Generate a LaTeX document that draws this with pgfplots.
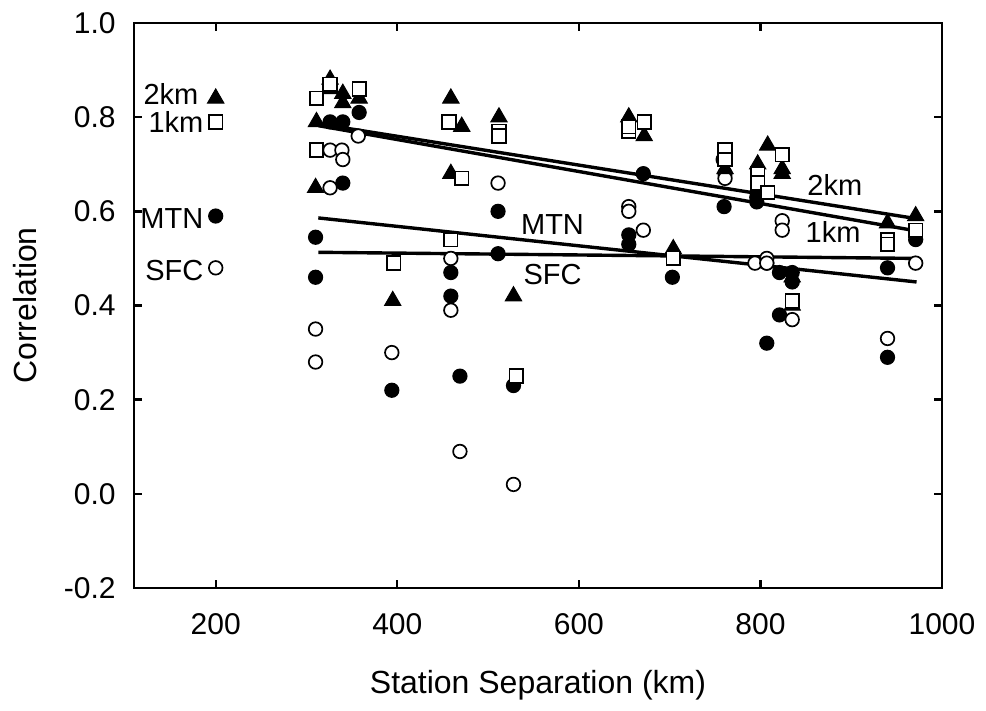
\documentclass[border=0pt]{standalone}
\usepackage{pgfplots}
\pgfplotsset{compat=1.18}
\usepackage{fontspec}
\setmainfont{Liberation Sans}
\begin{document}
\fontsize{15}{18}\selectfont
\begin{tikzpicture}
\begin{axis}[
  scale only axis, width=404pt, height=282.5pt,
  xmin=110, xmax=1000, ymin=-0.2, ymax=1.0,
  xtick={200,400,600,800,1000},
  ytick={-0.2,0.0,0.2,0.4,0.6,0.8,1.0},
  tick align=inside, major tick length=4pt,
  axis line style={line width=1.2pt},
  every tick/.style={line width=1.2pt, black},
  /pgf/number format/assume math mode=true,
  yticklabel style={/pgf/number format/fixed, /pgf/number format/fixed zerofill, /pgf/number format/precision=1, xshift=-4pt, font=\fontsize{15}{18}\selectfont},
  xticklabel style={/pgf/number format/1000 sep={}, yshift=-7.5pt, font=\fontsize{15}{18}\selectfont},
  xlabel={Station Separation (km)}, ylabel={Correlation},
  xlabel style={at={(axis description cs:0.5,-0.172)}, anchor=center, font=\fontsize{16}{19}\selectfont},
  ylabel style={at={(axis description cs:-0.135,0.5)}, anchor=center, font=\fontsize{16}{19}\selectfont},
  clip=false,
]
% regression lines
\addplot[black, line width=1.7pt] coordinates {(313,0.786) (970,0.585)};
\addplot[black, line width=1.7pt] coordinates {(313,0.782) (970,0.559)};
\addplot[black, line width=1.7pt] coordinates {(313,0.586) (972,0.450)};
\addplot[black, line width=1.7pt] coordinates {(313,0.513) (972,0.500)};
% MTN
\addplot[only marks, mark=*, mark size=3.5pt, mark options={draw=black, fill=black, line width=0.6pt}] coordinates {
(200,0.59)
(310,0.545) (310,0.46) (326,0.79) (340,0.79) (340,0.66) (358,0.81) (394,0.22)
(459,0.47) (459,0.42) (469,0.25) (511,0.60) (511,0.51) (528,0.23)
(655,0.55) (655,0.53) (671,0.68) (703,0.46) (761,0.68) (760,0.61)
(796,0.63) (796,0.62) (807,0.49) (807,0.32) (821,0.47) (821,0.38)
(835,0.47) (835,0.45) (940,0.48) (940,0.29) (971,0.54)
};
% SFC
\addplot[only marks, mark=*, mark size=3.4pt, mark options={draw=black, fill=white, line width=0.85pt}] coordinates {
(200,0.48)
(310,0.35) (310,0.28) (326,0.73) (326,0.65) (339,0.73) (340,0.71) (357,0.76)
(394,0.30) (459,0.50) (459,0.39) (469,0.09) (511,0.66) (528,0.02)
(655,0.61) (655,0.60) (671,0.56) (759,0.71) (761,0.67) (794,0.49)
(807,0.50) (807,0.49) (824,0.58) (824,0.56) (835,0.37) (940,0.33) (971,0.49)
};
% 2km
\addplot[only marks, mark=triangle*, mark size=4.7pt, mark options={draw=black, fill=black, line width=0.5pt}] coordinates {
(200,0.84)
(311,0.79) (310,0.65) (326,0.88) (326,0.86) (340,0.85) (340,0.83) (358,0.84)
(395,0.41) (459,0.84) (471,0.78) (459,0.68) (512,0.80) (528,0.42)
(655,0.80) (672,0.76) (704,0.52) (761,0.69) (797,0.70) (808,0.74)
(824,0.69) (824,0.68) (835,0.46) (835,0.40) (940,0.575) (971,0.59)
};
% 1km
\addplot[only marks, mark=square*, mark size=3.4pt, mark options={draw=black, fill=white, line width=0.85pt}] coordinates {
(200,0.79)
(311,0.84) (311,0.73) (326,0.87) (358,0.86) (396,0.49)
(457,0.79) (471,0.67) (459,0.54) (512,0.77) (512,0.76) (531,0.25)
(655,0.77) (655,0.78) (672,0.79) (704,0.50) (761,0.73) (761,0.71)
(797,0.68) (797,0.66) (808,0.64) (824,0.72) (835,0.41)
(940,0.54) (940,0.53) (971,0.56)
};
% labels
\node[anchor=east, inner sep=0pt, font=\fontsize{14.5}{17}\selectfont] at (axis cs:200,0.85) [xshift=-8.5pt] {2km};
\node[anchor=east, inner sep=0pt, font=\fontsize{14.5}{17}\selectfont] at (axis cs:200,0.79) [xshift=-6pt] {1km};
\node[anchor=east, inner sep=0pt, font=\fontsize{14.5}{17}\selectfont] at (axis cs:200,0.585) [xshift=-6pt] {MTN};
\node[anchor=east, inner sep=0pt, font=\fontsize{14.5}{17}\selectfont] at (axis cs:200,0.475) [xshift=-6pt] {SFC};
\node[font=\fontsize{14.5}{17}\selectfont] at (axis cs:882,0.656) {2km};
\node[font=\fontsize{14.5}{17}\selectfont] at (axis cs:880,0.556) {1km};
\node[font=\fontsize{14.5}{17}\selectfont] at (axis cs:571,0.571) {MTN};
\node[font=\fontsize{14.5}{17}\selectfont] at (axis cs:571,0.465) {SFC};
\end{axis}
\path (current axis.south west) ++(-67pt,-58pt) coordinate (bbA);
\path (current axis.north east) ++(22pt,11.5pt) coordinate (bbB);
\path (bbA) rectangle (bbB);
\end{tikzpicture}
\end{document}
